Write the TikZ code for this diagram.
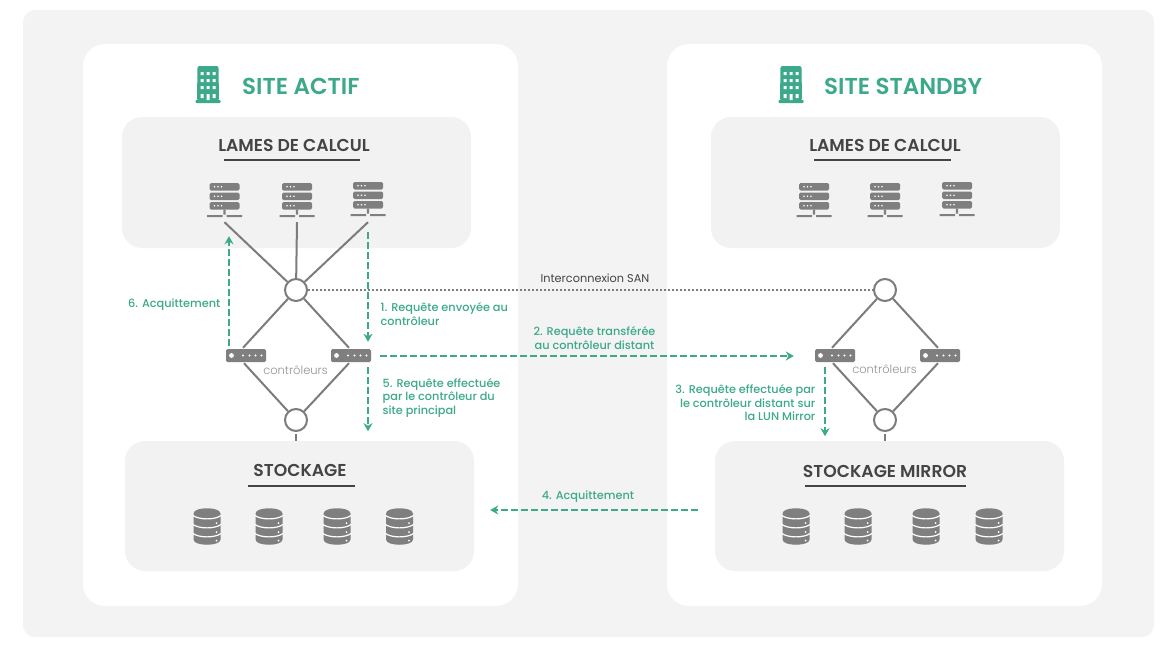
\documentclass[tikz,border=0pt]{standalone}
\usepackage{fontspec}
\setmainfont{Poppins}
\newfontfamily\medfont{Poppins Medium}
\newfontfamily\semifont{Poppins SemiBold}
\newfontfamily\lightfont{Poppins Light}
\usetikzlibrary{arrows.meta}
\definecolor{sitegreen}{HTML}{3BA98A}
\definecolor{iconfill}{HTML}{7F7F7F}
\definecolor{linegray}{HTML}{7C7C7C}
\definecolor{panelgray}{HTML}{F2F2F2}
\definecolor{outergray}{HTML}{F3F3F3}
\definecolor{headdark}{HTML}{444444}
\tikzset{
    panel/.style={fill=panelgray, rounded corners=20pt, inner sep=0pt},
    sitecard/.style={fill=white, rounded corners=22pt, inner sep=0pt},
    sitetitle/.style={text=sitegreen, anchor=west, inner sep=0pt, font=\semifont\fontsize{23}{27}\selectfont},
    heading/.style={text=headdark, font=\semifont\fontsize{17.2}{20}\selectfont},
    headrule/.style={draw=headdark, line width=2pt},
    hub/.style={circle, draw=linegray, fill=white, line width=2pt, minimum size=22pt, inner sep=0pt},
    link/.style={draw=linegray, line width=2pt},
    flow/.style={draw=sitegreen, line width=2pt, dash pattern=on 7pt off 3pt, -{Stealth[length=8pt,width=9pt]}},
    flowlabel/.style={text=sitegreen, align=left, inner sep=0pt, font=\medfont\fontsize{11.3}{13.5}\selectfont},
    ctrllabel/.style={text=gray!85, font=\lightfont\fontsize{11.5}{14}\selectfont},
    server/.pic={
        \node[minimum width=35pt, minimum height=34pt, inner sep=0pt] (-box) at (0,0) {};
        \fill[iconfill, rounded corners=1.5pt] (-15,-17) rectangle (15,-9.5) (-15,-7.5) rectangle (15,0) (-15,2) rectangle (15,9.5);
        \fill[white] (-10,-13.2) circle (.9) (-6.5,-13.2) circle (.9) (-3,-13.2) circle (.9)
            (-10,-3.7) circle (.9) (-6.5,-3.7) circle (.9) (-3,-3.7) circle (.9)
            (-10,5.8) circle (.9) (-6.5,5.8) circle (.9) (-3,5.8) circle (.9);
        \fill[iconfill] (-1.2,9.5) rectangle (1.2,14.5) (-17.5,15) rectangle (-2,17) (2,15) rectangle (17.5,17);
    },
    ctrl/.pic={
        \node[fill=iconfill, rounded corners=1.5pt, minimum width=40pt, minimum height=13pt, inner sep=0pt] (-box) at (0,0) {};
        \fill[white] (-14.5,0) circle (2.4) (-3,0) circle (1.1) (3.5,0) circle (1.1) (9.5,0) circle (1.1) (15.5,0) circle (1.1);
    },
    dbase/.pic={
        \fill[iconfill] (-13.5,-13) .. controls (-13.5,-20) and (13.5,-20) .. (13.5,-13) -- (13.5,13)
            .. controls (13.5,20) and (-13.5,20) .. (-13.5,13) -- cycle;
        \draw[white, line width=1.2pt] (-14,-11) .. controls (-8,-6.5) and (8,-6.5) .. (14,-11);
        \draw[white, line width=1.2pt] (-14,-2) .. controls (-8,2.5) and (8,2.5) .. (14,-2);
        \draw[white, line width=1.2pt] (-14,7) .. controls (-8,11.5) and (8,11.5) .. (14,7);
        \fill[white] (9.5,-3.5) circle (1) (9.5,5.5) circle (1) (9.5,14) circle (1);
    },
    building/.pic={
        \fill[sitegreen, rounded corners=2pt] (-11,16.5) -- (-10.5,-18) -- (10.5,-18) -- (11,16.5) -- cycle;
        \fill[sitegreen, rounded corners=.8pt] (-12.5,16) rectangle (12.5,19);
        \fill[white] (-7.5,-12) rectangle +(3,3) (-1.5,-12) rectangle +(3,3) (4.5,-12) rectangle +(3,3)
            (-7.5,-5) rectangle +(3,3) (-1.5,-5) rectangle +(3,3) (4.5,-5) rectangle +(3,3)
            (-7.5,2) rectangle +(3,3) (-1.5,2) rectangle +(3,3) (4.5,2) rectangle +(3,3)
            (-7.5,10) rectangle +(3,4) (-1.5,10) rectangle +(3,6) (4.5,10) rectangle +(3,4);
    },
}
\begin{document}
\begin{tikzpicture}[x=1pt, y=-1pt]
    \useasboundingbox (0,0) rectangle (1176,656);
    \fill[outergray, rounded corners=12pt] (23,10) rectangle (1154,637);
    \node[sitecard, minimum width=435pt, minimum height=562pt] (siteA) at (300.5,325) {};
    \node[sitecard, minimum width=435pt, minimum height=562pt] (siteB) at (884.5,325) {};
    \node[panel, minimum width=349pt, minimum height=131pt] (lamesA) at (296.5,182.5) {};
    \node[panel, minimum width=349pt, minimum height=131pt] (lamesB) at (885.5,182.5) {};
    \node[panel, minimum width=349pt, minimum height=130pt] (stockA) at (299.5,506) {};
    \node[panel, minimum width=349pt, minimum height=130pt] (stockB) at (889.5,506) {};

    \pic at (208,84) {building};
    \pic at (791,84) {building};
    \node[sitetitle] (titleA) at (242,86) {SITE ACTIF};
    \node[sitetitle] (titleB) at (824,86) {SITE STANDBY};

    \node[heading] (headLamesA) at (294,145.2) {LAMES DE CALCUL};
    \node[heading] (headLamesB) at (885,145.2) {LAMES DE CALCUL};
    \node[heading] (headStockA) at (300,470.2) {STOCKAGE};
    \node[heading] (headStockB) at (885,471.2) {STOCKAGE MIRROR};
    \draw[headrule] (224,160) -- (360,160);
    \draw[headrule] (814,160) -- (951,160);
    \draw[headrule] (248,486) -- (355,486);
    \draw[headrule] (805,486) -- (966,486);

    \pic (srvA1) at (224.5,200) {server};
    \pic (srvA2) at (297,200) {server};
    \pic (srvA3) at (368,199) {server};
    \pic (srvB1) at (814,200) {server};
    \pic (srvB2) at (885,200) {server};
    \pic (srvB3) at (957,199) {server};

    \node[hub] (hubA) at (296,290) {};
    \node[hub] (lowA) at (296,420) {};
    \node[hub] (hubB) at (885,290) {};
    \node[hub] (lowB) at (885,420) {};
    \pic (ctrlA1) at (246,355.5) {ctrl};
    \pic (ctrlA2) at (351,355.5) {ctrl};
    \pic (ctrlB1) at (835,355.5) {ctrl};
    \pic (ctrlB2) at (940,355.5) {ctrl};
    \node[ctrllabel] (ctrlTextA) at (295.5,370) {contrôleurs};
    \node[ctrllabel] (ctrlTextB) at (884.5,369.5) {contrôleurs};

    \pic (dbA1) at (207,526.5) {dbase};
    \pic (dbA2) at (269,526.5) {dbase};
    \pic (dbA3) at (337,526.5) {dbase};
    \pic (dbA4) at (399.5,526.5) {dbase};
    \pic (dbB1) at (796,526.5) {dbase};
    \pic (dbB2) at (858,526.5) {dbase};
    \pic (dbB3) at (926,526.5) {dbase};
    \pic (dbB4) at (989,526.5) {dbase};

    \draw[link] (hubA) -- ([yshift=-5pt]srvA1-box.south);
    \draw[link] (hubA) -- ([yshift=-5pt]srvA2-box.south);
    \draw[link] (hubA) -- ([yshift=-6pt]srvA3-box.south);
    \draw[link] (hubA) -- ([xshift=-3pt,yshift=1pt]ctrlA1-box.north);
    \draw[link] (hubA) -- ([xshift=-2pt,yshift=1pt]ctrlA2-box.north);
    \draw[link] (lowA) -- ([xshift=-2pt,yshift=-1pt]ctrlA1-box.south);
    \draw[link] (lowA) -- ([xshift=-2pt,yshift=-1pt]ctrlA2-box.south);
    \draw[link] ([yshift=-2pt]lowA.south) -- (lowA.south |- stockA.north);
    \draw[link] (hubB) -- ([xshift=-3pt,yshift=1pt]ctrlB1-box.north);
    \draw[link] (hubB) -- ([xshift=-2pt,yshift=1pt]ctrlB2-box.north);
    \draw[link] (lowB) -- ([xshift=-2pt,yshift=-1pt]ctrlB1-box.south);
    \draw[link] (lowB) -- ([xshift=-2pt,yshift=-1pt]ctrlB2-box.south);
    \draw[link] ([yshift=-2pt]lowB.south) -- (lowB.south |- stockB.north);

    \draw[flow] ([xshift=-17pt,yshift=3pt]ctrlA1-box.north) -- ([xshift=4.5pt,yshift=-19pt]srvA1-box.south);
    \draw[flow] ([yshift=-16pt]srvA3-box.south) -- ([xshift=17pt,yshift=7pt]ctrlA2-box.north);
    \draw[flow] ([xshift=17pt,yshift=-5pt]ctrlA2-box.south) -- ([xshift=17pt,yshift=-69pt]ctrlA2-box.south);
    \draw[flow] ([xshift=9pt,yshift=-.5pt]ctrlA2-box.east) -- ([xshift=-21pt,yshift=-.5pt]ctrlB1-box.west);
    \draw[flow] ([xshift=-10pt,yshift=-5pt]ctrlB1-box.south) -- ([xshift=-10pt,yshift=-74pt]ctrlB1-box.south);
    \draw[flow] ([xshift=-17pt,yshift=-4pt]stockB.west) -- ([xshift=16pt,yshift=-4pt]stockA.east);
    \draw[draw=linegray, line width=2pt, dash pattern=on 2pt off 2pt] (hubA) -- (hubB);

    \node[text=headdark, font=\fontsize{11.3}{13}\selectfont] (sanLabel) at (595,278) {Interconnexion SAN};
    \node[flowlabel, anchor=east] (stepSix) at (220.5,304.5) {6. Acquittement};
    \node[flowlabel, anchor=west] (stepOne) at (380.5,314) {1. Requête envoyée au\\contrôleur};
    \node[flowlabel, align=center] (stepTwo) at (594.5,338) {2. Requête transférée\\au contrôleur distant};
    \node[flowlabel, anchor=west] (stepFive) at (382.5,397.5) {5. Requête effectuée\\par le contrôleur du\\site principal};
    \node[flowlabel, anchor=east, align=right] (stepThree) at (815.5,403) {3. Requête effectuée par\\le contrôleur distant sur\\la LUN Mirror};
    \node[flowlabel] (stepFour) at (588,496.5) {4. Acquittement};
\end{tikzpicture}
\end{document}
